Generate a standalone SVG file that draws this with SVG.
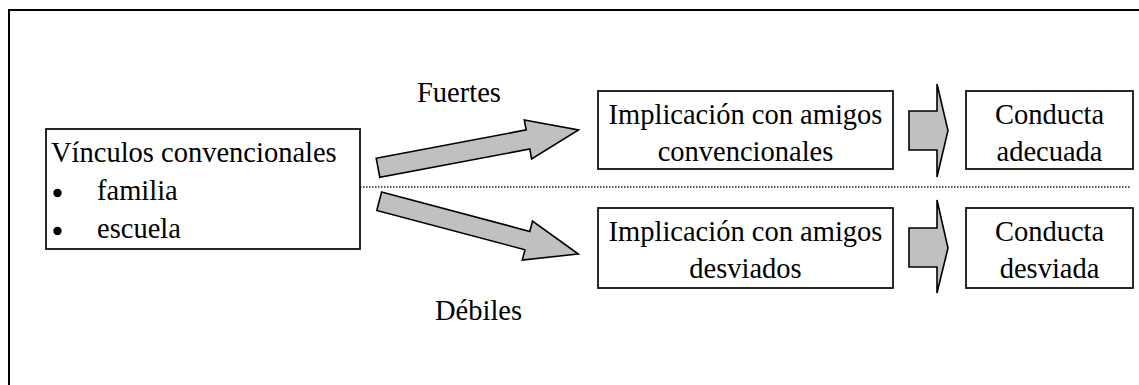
<svg xmlns="http://www.w3.org/2000/svg" width="1139" height="385" viewBox="0 0 1139 385">
  <style>
    .box { fill: #ffffff; stroke: #111111; stroke-width: 1.8; }
    .arrow { fill: #c0c0c0; stroke: #000000; stroke-width: 1.6; stroke-linejoin: miter; }
    .txt { font-family: "Liberation Serif", "Times New Roman", serif; font-size: 28.5px; fill: #000000; }
    .mid { text-anchor: middle; }
    .divider { stroke: #222222; stroke-width: 1.4; stroke-dasharray: 1.5 1.5; fill: none; }
    .frame { stroke: #000000; stroke-width: 2; fill: none; }
  </style>

  <rect x="0" y="0" width="1139" height="385" fill="#ffffff"/>

  <!-- outer frame (left and top edges) -->
  <path class="frame" d="M9,385 V10 H1139"/>

  <!-- dotted divider between the two paths -->
  <line class="divider" x1="360" y1="187" x2="1131" y2="187"/>

  <!-- source node -->
  <g id="vinculos">
    <rect class="box" x="46" y="129" width="314" height="120"/>
    <text class="txt" x="51" y="162">Vínculos convencionales</text>
    <circle cx="57.5" cy="193" r="4.2" fill="#000"/>
    <text class="txt" x="97" y="200">familia</text>
    <circle cx="57.5" cy="231" r="4.2" fill="#000"/>
    <text class="txt" x="97" y="238">escuela</text>
  </g>

  <g id="amigos-convencionales">
    <rect class="box" x="598" y="91" width="295" height="78"/>
    <text class="txt mid" x="745.5" y="124">Implicación con amigos</text>
    <text class="txt mid" x="745.5" y="161">convencionales</text>
  </g>

  <g id="amigos-desviados">
    <rect class="box" x="598" y="208" width="295" height="80"/>
    <text class="txt mid" x="745.5" y="241">Implicación con amigos</text>
    <text class="txt mid" x="745.5" y="278">desviados</text>
  </g>

  <g id="conducta-adecuada">
    <rect class="box" x="966" y="91" width="167" height="78"/>
    <text class="txt mid" x="1049.5" y="124">Conducta</text>
    <text class="txt mid" x="1049.5" y="161">adecuada</text>
  </g>

  <g id="conducta-desviada">
    <rect class="box" x="966" y="208" width="167" height="80"/>
    <text class="txt mid" x="1049.5" y="241">Conducta</text>
    <text class="txt mid" x="1049.5" y="278">desviada</text>
  </g>

  <!-- connectors: block arrows -->
  <g id="connectors">
    <polygon class="arrow" points="376.2,158.2 526.2,129.9 524.3,119.9 578.5,130.0 531.6,159.0 529.8,149.0 379.8,177.2"/>
    <polygon class="arrow" points="381.6,192.1 529.8,231.4 532.5,221.1 578.3,254.0 522.3,260.0 525.0,249.7 376.8,210.5"/>
    <polygon class="arrow" points="909,111 937,111 937,84 948,130.5 937,177 937,150 909,150"/>
    <polygon class="arrow" points="909,228 937,228 937,200 948,248 937,293 937,267 909,267"/>
    <text class="txt" x="417" y="102">Fuertes</text>
    <text class="txt" x="435" y="320">Débiles</text>
  </g>
</svg>
